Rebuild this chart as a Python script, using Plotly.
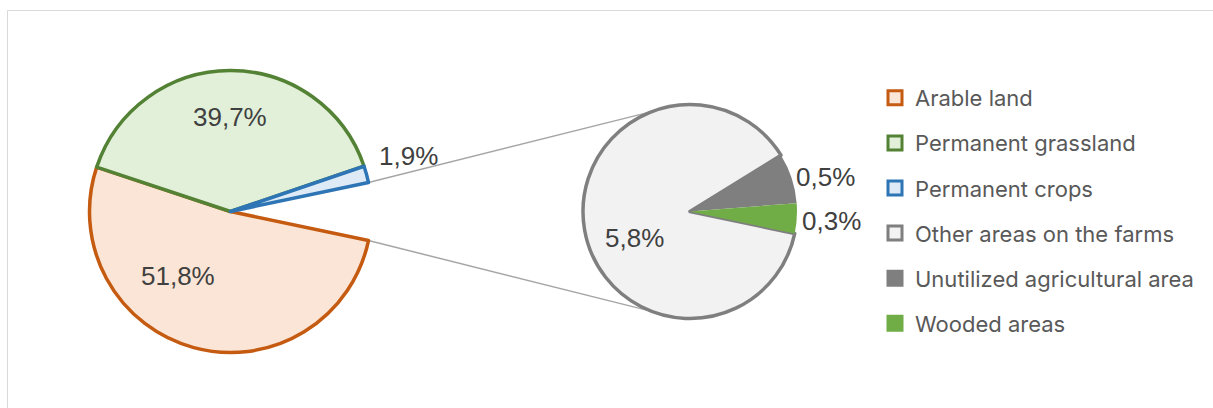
import math
import plotly.graph_objects as go

W, H = 1213, 408

# ---------------- data ----------------
main_labels = ["Arable land", "Permanent grassland", "Permanent crops"]
main_values = [51.8, 39.7, 1.9]
other_labels = ["Other areas on the farms", "Unutilized agricultural area", "Wooded areas"]
other_values = [5.8, 0.5, 0.3]

# ---------------- styles ----------------
main_fill = ["#FBE5D6", "#E2F0D9", "#DEEBF7"]
main_line = ["#C55A11", "#548235", "#2E75B6"]
other_fill = ["#F2F2F2", "#7F7F7F", "#70AD47"]
other_line = ["#7F7F7F", "#7F7F7F", "#70AD47"]

# geometry (pixels)
L_CX, L_CY, L_R = 230.5, 211.5, 141
R_CX, R_CY, R_R = 690.0, 211.5, 107
CONNECT_DEG = 21  # where connector lines meet the second pie (from vertical)

# label placement: radius fraction, angle offset (deg), anchor
main_lab_rf = [0.59, 0.667, 1.112]
main_lab_dth = [23.7, 0.0, -5.6]
main_lab_anchor = ["center", "center", "left"]
other_lab_rf = [0.572, 1.024, 1.032]
other_lab_dth = [-15.4, 0.0, 1.4]
other_lab_anchor = ["center", "left", "left"]

LABEL_FONT = dict(family="Liberation Sans, Arial, sans-serif", size=26, color="#404040")
LEGEND_FONT = dict(family="Inter, Open Sans, sans-serif", size=22, color="#595959")


def px(x):
    return x / W


def py(y):
    return 1 - y / H


def domain(cx, cy, r):
    return dict(x=[px(cx - r), px(cx + r)], y=[py(cy + r), py(cy - r)])


other_total = round(sum(other_values), 1)
left_values = main_values + [other_total]
left_total = sum(left_values)
rotation = 90 + 360 * other_total / left_total / 2


def mid_angle(values, rot, i):
    tot = sum(values)
    start = rot + 360 * sum(values[:i]) / tot
    return start + 360 * values[i] / tot / 2


def polar(cx, cy, r, theta_deg):
    t = math.radians(theta_deg)
    return cx + r * math.sin(t), cy - r * math.cos(t)


def fmt(v):
    return f"{v:.1f}".replace(".", ",") + "%"


fig = go.Figure()

fig.add_trace(go.Pie(
    labels=main_labels + ["Other"],
    values=left_values,
    sort=False,
    direction="clockwise",
    rotation=rotation,
    marker=dict(colors=main_fill + ["rgba(0,0,0,0)"],
                line=dict(color=main_line + ["rgba(0,0,0,0)"], width=[3.5, 3.5, 3.5, 0])),
    textinfo="none",
    hoverinfo="label+percent",
    showlegend=False,
    domain=domain(L_CX, L_CY, L_R),
))

fig.add_trace(go.Pie(
    labels=other_labels,
    values=other_values,
    sort=False,
    direction="clockwise",
    rotation=rotation,
    marker=dict(colors=other_fill, line=dict(color=other_line, width=[3.5, 0, 0])),
    textinfo="none",
    hoverinfo="label+value",
    showlegend=False,
    domain=domain(R_CX, R_CY, R_R),
))

# legend entries
for lab, fc, lc in zip(main_labels + other_labels, main_fill + other_fill, main_line + other_line):
    fig.add_trace(go.Scatter(
        x=[None], y=[None], mode="markers", name=lab, legendgroup=lab,
        marker=dict(symbol="square", size=14, color=fc, line=dict(color=lc, width=3)),
    ))

annotations = []
for i, v in enumerate(main_values):
    th = mid_angle(left_values, rotation, i) + main_lab_dth[i]
    x, y = polar(L_CX, L_CY, L_R * main_lab_rf[i], th)
    annotations.append(dict(x=px(x), y=py(y), xref="paper", yref="paper", text=fmt(v),
                            showarrow=False, font=LABEL_FONT, xanchor=main_lab_anchor[i],
                            yanchor="middle"))
for i, v in enumerate(other_values):
    th = mid_angle(other_values, rotation, i) + other_lab_dth[i]
    x, y = polar(R_CX, R_CY, R_R * other_lab_rf[i], th)
    annotations.append(dict(x=px(x), y=py(y), xref="paper", yref="paper", text=fmt(v),
                            showarrow=False, font=LABEL_FONT, xanchor=other_lab_anchor[i],
                            yanchor="middle"))

# connector lines
half = 360 * other_total / left_total / 2
a_top = polar(L_CX, L_CY, L_R, 90 - half)
a_bot = polar(L_CX, L_CY, L_R, 90 + half)
b_top = polar(R_CX, R_CY, R_R, -CONNECT_DEG)
b_bot = polar(R_CX, R_CY, R_R, 180 + CONNECT_DEG)
shapes = [
    dict(type="line", xref="paper", yref="paper", x0=px(a_top[0]), y0=py(a_top[1]),
         x1=px(b_top[0]), y1=py(b_top[1]), line=dict(color="#A6A6A6", width=1.5), layer="below"),
    dict(type="line", xref="paper", yref="paper", x0=px(a_bot[0]), y0=py(a_bot[1]),
         x1=px(b_bot[0]), y1=py(b_bot[1]), line=dict(color="#A6A6A6", width=1.5), layer="below"),
    dict(type="rect", xref="paper", yref="paper", x0=px(7.5), y0=py(10.5), x1=px(W + 20),
         y1=py(H + 20), line=dict(color="#D9D9D9", width=1), fillcolor="rgba(0,0,0,0)",
         layer="below"),
]

fig.update_layout(
    width=W, height=H,
    margin=dict(l=0, r=0, t=0, b=0),
    paper_bgcolor="white", plot_bgcolor="white",
    xaxis=dict(visible=False), yaxis=dict(visible=False),
    showlegend=True,
    legend=dict(x=px(875), y=py(77), xanchor="left", yanchor="top",
                font=LEGEND_FONT, tracegroupgap=13.5, bgcolor="rgba(0,0,0,0)",
                itemclick=False, itemdoubleclick=False),
    annotations=annotations,
    shapes=shapes,
)

fig.write_html("out.html")
